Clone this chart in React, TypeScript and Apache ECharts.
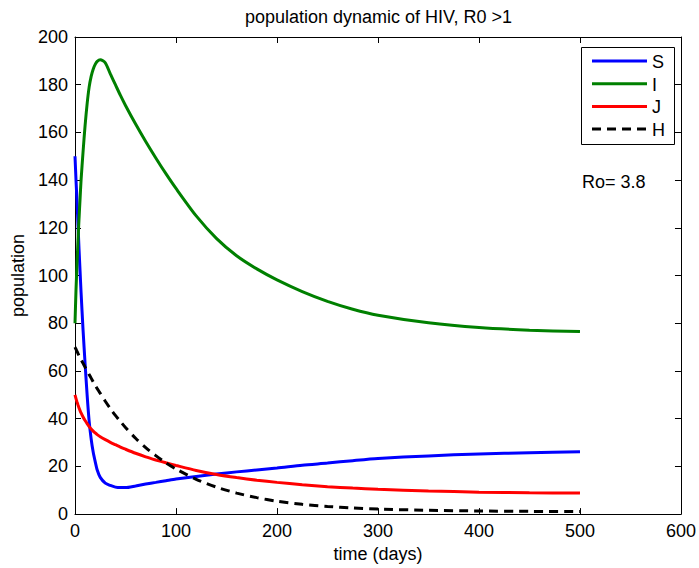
import React, { useEffect, useRef } from "react";
import * as echarts from "echarts";

const timeDays = [0, 1, 2, 3, 4, 5, 6, 8, 10, 12, 14, 16, 18, 20, 22, 25, 30, 35, 40, 45, 50, 60, 70, 80, 90, 100, 120, 140, 160, 180, 200, 225, 250, 275, 300, 350, 400, 450, 500];

const S = [150, 140, 131, 121, 111, 102, 93, 77, 63, 50, 39, 31.5, 26, 22, 18.5, 15.4, 13, 12, 11.3, 11.1, 11.1, 11.8, 12.6, 13.3, 14, 14.7, 15.8, 16.8, 17.7, 18.5, 19.3, 20.5, 21.4, 22.4, 23.3, 24.4, 25.2, 25.7, 26.1];

const I = [80, 94, 105, 115, 124, 132, 140, 152, 163, 172, 179, 183.5, 186.5, 188.5, 189.8, 190.5, 189.2, 184.5, 180, 175.5, 171.3, 163.5, 156.2, 149.3, 142.7, 136.5, 125, 115.6, 108.3, 102.8, 98.2, 93.3, 89.2, 85.9, 83.4, 80.2, 78.2, 77.1, 76.5];

const J = [50, 48.4, 47, 45.7, 44.5, 43.4, 42.4, 40.7, 39.2, 37.9, 36.7, 35.7, 34.8, 34, 33.3, 32.4, 31.2, 30.1, 29.1, 28.1, 27.2, 25.5, 24, 22.7, 21.5, 20.4, 18.3, 16.6, 15.3, 14.2, 13.3, 12.3, 11.5, 10.9, 10.4, 9.7, 9.2, 8.95, 8.8];

const H = [70, 69.1, 68.2, 67.3, 66.4, 65.6, 64.8, 63.2, 61.6, 60, 58.5, 57, 55.5, 54, 52.6, 50.6, 47.3, 44.2, 41.4, 38.8, 36.3, 31.8, 27.9, 24.5, 21.5, 18.9, 14.6, 11.3, 8.8, 6.9, 5.4, 4.1, 3.2, 2.6, 2.1, 1.6, 1.3, 1.15, 1.05];

const seriesNames = ["S", "I", "J", "H"];
const seriesColors = ["#0000ff", "#008000", "#ff0000", "#000000"];
const seriesValues = [S, I, J, H];

const titleText = "population dynamic of HIV, R0 >1";
const annotation = "Ro= 3.8";
const xName = "time (days)";
const yName = "population";

const FONT = "'Liberation Sans', Arial, Helvetica, sans-serif";
const DASH = [9, 6];

export default function App() {
  const ref = useRef<HTMLDivElement>(null);
  useEffect(() => {
    if (!ref.current) return;
    const chart = echarts.init(ref.current, undefined, { renderer: "svg" });
    const axisCommon = {
      type: "value" as const,
      splitLine: { show: false },
      axisLine: { show: true, onZero: false, lineStyle: { color: "#000", width: 1 } },
      axisTick: { show: true, inside: true, length: 6, lineStyle: { color: "#000" } },
    };

    // legend drawn as graphic elements
    const lgLeft = 581;
    const lgTop = 47;
    const lgW = 93;
    const lgH = 97;
    const rowY0 = 61;
    const rowStep = 22.7;
    const legendEls: any[] = [
      {
        type: "rect",
        silent: true,
        shape: { x: lgLeft + 0.5, y: lgTop + 0.5, width: lgW, height: lgH },
        style: { fill: "#fff", stroke: "#000", lineWidth: 1 },
        z: 10,
      },
    ];
    seriesNames.forEach((name, k) => {
      const y = rowY0 + k * rowStep;
      legendEls.push({
        type: "line",
        silent: true,
        shape: { x1: lgLeft + 11, y1: y, x2: lgLeft + 66, y2: y },
        style: {
          stroke: seriesColors[k],
          lineWidth: 3,
          lineDash: k === 3 ? DASH : null,
        },
        z: 11,
      });
      legendEls.push({
        type: "text",
        silent: true,
        style: {
          text: name,
          x: lgLeft + 71,
          y: y + 1,
          align: "left",
          verticalAlign: "middle",
          fontSize: 18,
          fontFamily: FONT,
          fill: "#000",
        },
        z: 11,
      });
    });

    const option: any = {
      animation: false,
      backgroundColor: "#fff",
      textStyle: { fontFamily: FONT, color: "#000" },
      grid: { left: 75, right: 17, top: 37, bottom: 51, containLabel: false },
      xAxis: [
        {
          ...axisCommon,
          position: "bottom",
          min: 0,
          max: 600,
          interval: 100,
          name: xName,
          nameLocation: "middle",
          nameGap: 28,
          nameTextStyle: { fontSize: 18, color: "#000", fontFamily: FONT },
          axisLabel: { fontSize: 18, color: "#000", margin: 8, fontFamily: FONT },
        },
        {
          ...axisCommon,
          position: "top",
          min: 0,
          max: 600,
          interval: 100,
          axisLabel: { show: false },
        },
      ],
      yAxis: [
        {
          ...axisCommon,
          position: "left",
          min: 0,
          max: 200,
          interval: 20,
          name: yName,
          nameLocation: "middle",
          nameGap: 44,
          nameTextStyle: { fontSize: 18, color: "#000", fontFamily: FONT },
          axisLabel: { fontSize: 18, color: "#000", margin: 7, fontFamily: FONT },
        },
        {
          ...axisCommon,
          position: "right",
          min: 0,
          max: 200,
          interval: 20,
          axisLabel: { show: false },
        },
      ],
      graphic: [
        {
          type: "text",
          silent: true,
          style: {
            text: titleText,
            x: 378.5,
            y: 17,
            align: "center",
            verticalAlign: "middle",
            fontSize: 18,
            fontFamily: FONT,
            fill: "#000",
          },
        },
        {
          type: "text",
          silent: true,
          style: {
            text: annotation,
            x: 582,
            y: 182,
            align: "left",
            verticalAlign: "middle",
            fontSize: 18,
            fontFamily: FONT,
            fill: "#000",
          },
        },
        ...legendEls,
      ],
      series: seriesNames.map((name, k) => ({
        name,
        type: "line",
        xAxisIndex: 0,
        yAxisIndex: 0,
        data: timeDays.map((t, i) => [t, seriesValues[k][i]]),
        symbol: "none",
        smooth: 0.25,
        color: seriesColors[k],
        lineStyle: {
          color: seriesColors[k],
          width: 3,
          type: k === 3 ? DASH : "solid",
        },
        z: k === 3 ? 5 : 2,
      })),
    };
    chart.setOption(option);
    return () => chart.dispose();
  }, []);
  return (
    <div
      ref={ref}
      style={{ position: "fixed", left: 0, top: 0, width: 699, height: 568 }}
    />
  );
}
